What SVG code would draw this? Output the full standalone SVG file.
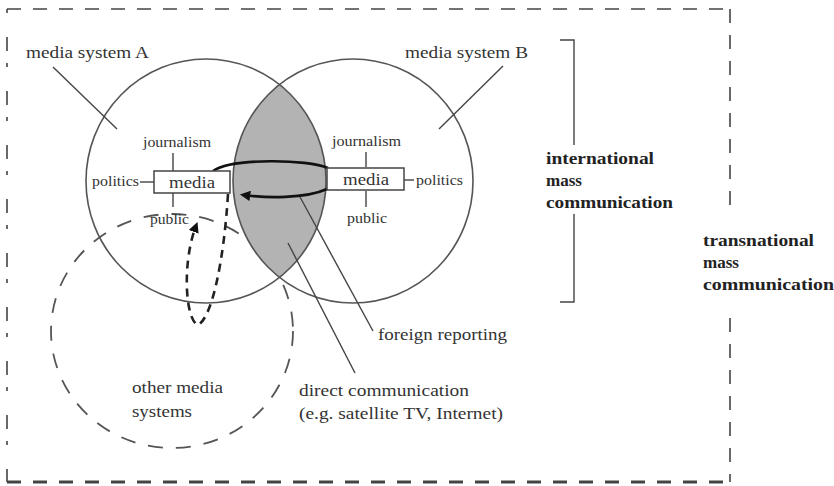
<svg xmlns="http://www.w3.org/2000/svg" width="834" height="486" viewBox="0 0 834 486">
<style>
.t{font-family:"Liberation Serif","Times New Roman",serif;fill:#333;font-size:16.5px}
.s{font-size:14px}
.b{font-weight:bold;fill:#222;font-size:16px}
.ln{fill:none;stroke:#444;stroke-width:1.4}
.circ{fill:none;stroke:#555;stroke-width:1.6}
.bd{fill:none;stroke:#444;stroke-width:1.6;stroke-dasharray:14 12}
.flow{fill:none;stroke:#111;stroke-width:2.6}
.dflow{fill:none;stroke:#222;stroke-width:2.6;stroke-dasharray:8 6}
.box{fill:#fff;stroke:#444;stroke-width:1.5}
</style>
<defs>
<clipPath id="clipA"><ellipse cx="206" cy="181" rx="120" ry="122"/></clipPath>
<marker id="ah" viewBox="0 0 10 10" refX="6" refY="5" markerWidth="4" markerHeight="4" orient="auto-start-reverse"><path d="M0,0 L10,5 L0,10 z" fill="#111"/></marker>
</defs>
<rect width="834" height="486" fill="#fff"/>

<g id="border">
<line class="bd" x1="7" y1="9" x2="731" y2="9"/>
<line class="bd" x1="7" y1="9" x2="7" y2="482" style="stroke-dasharray:4 24 14 12"/>
<line class="bd" x1="730" y1="9" x2="730" y2="214"/>
<line class="bd" x1="730" y1="318" x2="730" y2="482"/>
<line class="bd" x1="7" y1="482" x2="731" y2="482" style="stroke-width:3"/>
</g>

<g id="other-media-systems">
<ellipse cx="172" cy="331" rx="121" ry="117" class="circ" style="stroke-dasharray:15 13;stroke-width:1.8"/>
<text class="t" x="132" y="393" textLength="91" lengthAdjust="spacingAndGlyphs">other media</text>
<text class="t" x="132" y="417" textLength="60" lengthAdjust="spacingAndGlyphs">systems</text>
</g>

<g id="overlap">
<ellipse cx="353" cy="181" rx="120" ry="122" fill="#b3b3b3" clip-path="url(#clipA)"/>
</g>

<g id="media-system-A">
<ellipse cx="206" cy="181" rx="120" ry="122" class="circ"/>
<text class="t" x="26" y="58" textLength="123" lengthAdjust="spacingAndGlyphs">media system A</text>
</g>

<g id="media-system-B">
<ellipse cx="353" cy="181" rx="120" ry="122" class="circ"/>
<text class="t" x="405" y="58" textLength="123" lengthAdjust="spacingAndGlyphs">media system B</text>
</g>

<g id="connectors">
<line class="ln" x1="53" y1="67" x2="117" y2="129"/>
<line class="ln" x1="503" y1="66" x2="439" y2="129"/>
<line class="ln" x1="173" y1="153" x2="173" y2="171"/>
<line class="ln" x1="173" y1="193" x2="173" y2="207"/>
<line class="ln" x1="140" y1="182" x2="154" y2="182"/>
<line class="ln" x1="366" y1="152" x2="366" y2="167"/>
<line class="ln" x1="366" y1="191" x2="366" y2="207"/>
<line class="ln" x1="404" y1="180" x2="414" y2="180"/>
<line class="ln" x1="300" y1="197" x2="373" y2="331"/>
<line class="ln" x1="288" y1="243" x2="355" y2="373"/>
<path class="flow" d="M213,171 C232,158 308,159 328,168"/>
<path class="flow" d="M327,189 C305,199 265,198 244,195" marker-end="url(#ah)"/>
<path class="dflow" d="M228,194 C224,260 212,318 198,325 C185,320 182,262 196,226" marker-end="url(#ah)"/>
</g>

<g id="media-A">
<rect class="box" x="154" y="171" width="76" height="22"/>
<text class="t" x="192" y="188" text-anchor="middle" textLength="46" lengthAdjust="spacingAndGlyphs">media</text>
<text class="t s" x="143" y="147" textLength="68" lengthAdjust="spacingAndGlyphs">journalism</text>
<text class="t s" x="92" y="186" textLength="47" lengthAdjust="spacingAndGlyphs">politics</text>
<text class="t s" x="150" y="224" textLength="39" lengthAdjust="spacingAndGlyphs">public</text>
</g>

<g id="media-B">
<rect class="box" x="327" y="168" width="77" height="22"/>
<text class="t" x="366" y="185" text-anchor="middle" textLength="46" lengthAdjust="spacingAndGlyphs">media</text>
<text class="t s" x="332" y="146" textLength="69" lengthAdjust="spacingAndGlyphs">journalism</text>
<text class="t s" x="416" y="185" textLength="47" lengthAdjust="spacingAndGlyphs">politics</text>
<text class="t s" x="347" y="223" textLength="40" lengthAdjust="spacingAndGlyphs">public</text>
</g>

<g id="labels">
<text class="t" x="378" y="340" textLength="129" lengthAdjust="spacingAndGlyphs">foreign reporting</text>
<text class="t" x="299" y="396" textLength="170" lengthAdjust="spacingAndGlyphs">direct communication</text>
<text class="t" x="299" y="419" textLength="204" lengthAdjust="spacingAndGlyphs">(e.g. satellite TV, Internet)</text>
</g>

<g id="international">
<path class="ln" d="M560,40 L574,40 L574,145 M574,214 L574,302 L560,302"/>
<text class="t b" x="546" y="164" textLength="108" lengthAdjust="spacingAndGlyphs">international</text>
<text class="t b" x="546" y="186" textLength="36" lengthAdjust="spacingAndGlyphs">mass</text>
<text class="t b" x="546" y="208" textLength="127" lengthAdjust="spacingAndGlyphs">communication</text>
</g>

<g id="transnational">
<text class="t b" x="703" y="246" textLength="111" lengthAdjust="spacingAndGlyphs">transnational</text>
<text class="t b" x="703" y="268" textLength="36" lengthAdjust="spacingAndGlyphs">mass</text>
<text class="t b" x="703" y="290" textLength="131" lengthAdjust="spacingAndGlyphs">communication</text>
</g>
</svg>
